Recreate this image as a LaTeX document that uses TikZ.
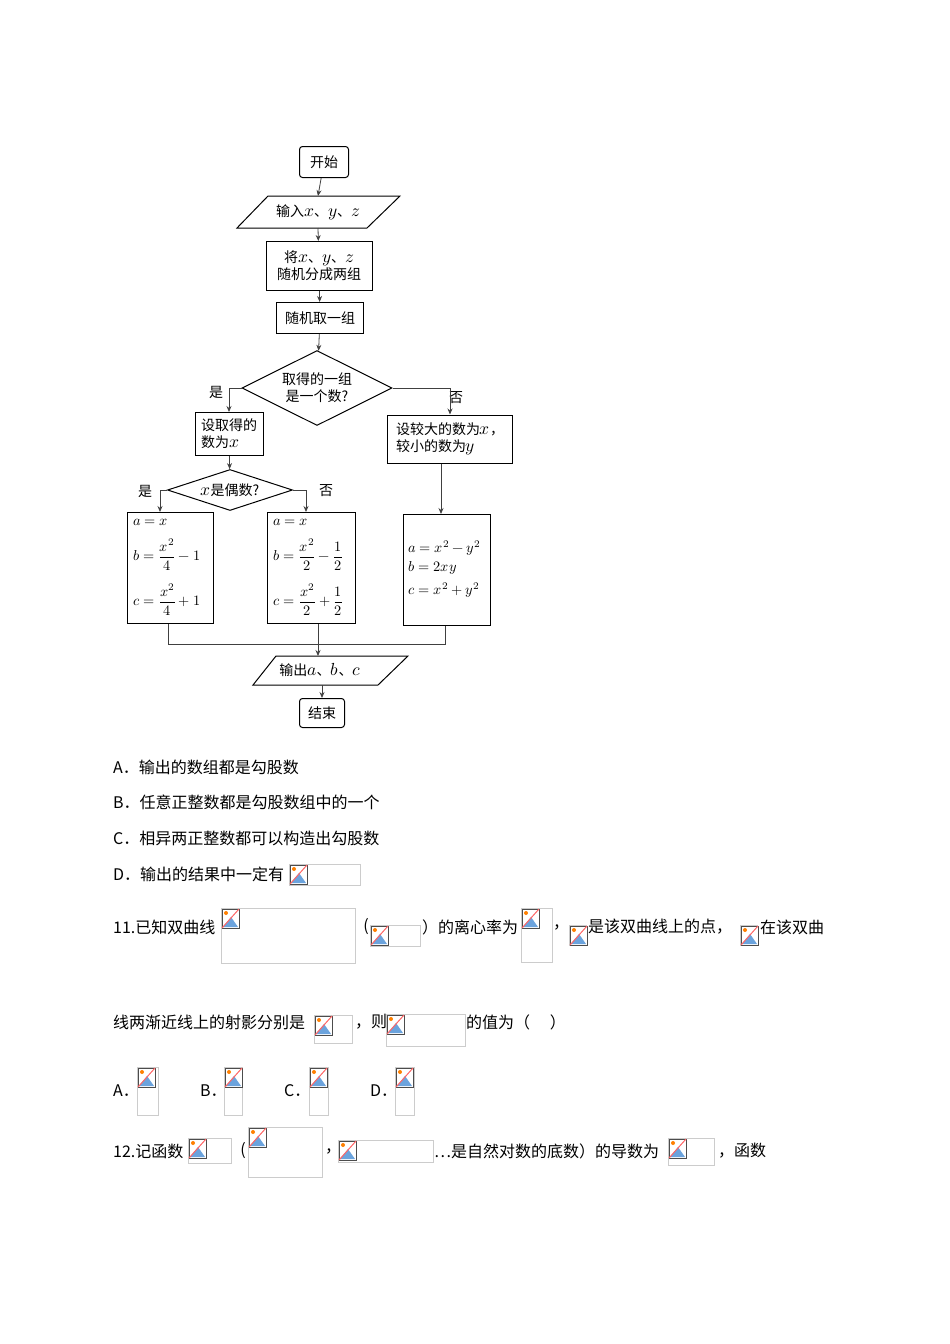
\documentclass[tikz,border=0pt]{standalone}
\usepackage{fontspec}
\setmainfont{Noto Sans CJK SC}
\usepackage{unicode-math}
\setmathfont{Latin Modern Math}[Scale=1.25]
\usetikzlibrary{shapes.geometric,arrows.meta}
\newcommand{\phbox}[5]{%
  \draw[gray!40,line width=0.8pt] (#1,#2) rectangle ++(#3,#4);
  \begin{scope}[shift={(#1,#2)}]
    \draw[black!70,fill=white,line width=0.8pt] (1,1) rectangle (18,20);
    \fill[cyan!60!blue!60] (2,19) -- (10,9) -- (17,19) -- cycle;
    \fill[orange] (5,5) circle (2);
    \draw[red!60,line width=1pt] (1,20) -- (18,1);
  \end{scope}
  \coordinate (#5) at (#1,#2);}
\begin{document}
\begin{tikzpicture}[x=1pt,y=-1pt,
  every node/.style={font=\fontsize{14}{17}\selectfont},
  fbox/.style={draw,line width=1pt,inner sep=0pt},
  txt/.style={anchor=west,inner sep=0pt,font=\fontsize{16}{18}\selectfont},
  mth/.style={anchor=west,inner sep=0pt,font=\fontsize{11.5}{14}\selectfont},
  arr/.style={-{Stealth[length=6pt,width=5pt]},line width=0.8pt,black!75},
  ln/.style={line width=0.8pt,black!75}]
\useasboundingbox (0,0) rectangle (950,1344);
% flowchart
\node[fbox,rounded corners=3pt,minimum width=49pt,minimum height=31pt] (start) at (324,162) {开始};
\draw[line width=1pt] (268,196) -- (400,196) -- (367,228) -- (237,228) -- cycle;
\node (in) at (318,212) {输入$x$、$y$、$z$};
\node[fbox,minimum width=106pt,minimum height=49pt,align=center] (split) at (319,266) {将$x$、$y$、$z$\\随机分成两组};
\node[fbox,minimum width=87pt,minimum height=31pt] (pick) at (320,318) {随机取一组};
\node[fbox,diamond,aspect=2,minimum width=150pt,minimum height=75pt,align=center] (d1) at (317,388) {取得的一组\\是一个数?};
\node[fbox,minimum width=68pt,minimum height=43pt,align=left] (one) at (229,434) {设取得的\\数为$x$};
\node[fbox,minimum width=125pt,minimum height=48pt,align=left] (two) at (450,439) {设较大的数为$x$，\\较小的数为$y$};
\node[fbox,diamond,aspect=3,minimum width=125pt,minimum height=41pt] (d2) at (230,490) {$x$是偶数?};
\node[fbox,minimum width=86pt,minimum height=111pt,anchor=north west] (b1) at (127,512) {};
\node[mth] at (133,522) {$a=x$};
\node[mth] at (133,555) {$b=\dfrac{x^2}{4}-1$};
\node[mth] at (133,600) {$c=\dfrac{x^2}{4}+1$};
\node[fbox,minimum width=88pt,minimum height=111pt,anchor=north west] (b2) at (267,512) {};
\node[mth] at (273,522) {$a=x$};
\node[mth] at (273,555) {$b=\dfrac{x^2}{2}-\dfrac12$};
\node[mth] at (273,600) {$c=\dfrac{x^2}{2}+\dfrac12$};
\node[fbox,minimum width=87pt,minimum height=111pt,anchor=north west] (b3) at (403,514) {};
\node[mth] at (408,548) {$a=x^2-y^2$};
\node[mth] at (408,568) {$b=2xy$};
\node[mth] at (408,590) {$c=x^2+y^2$};
\draw[line width=1pt] (276,656) -- (408,656) -- (378,685) -- (253,685) -- cycle;
\node (out) at (320,670) {输出$a$、$b$、$c$};
\node[fbox,rounded corners=3pt,minimum width=45pt,minimum height=29pt] (end) at (322,713) {结束};
\node (y1) at (216,392) {是};
\node (n1) at (456,398) {否};
\node (y2) at (145,491) {是};
\node (n2) at (326,491) {否};
\draw[arr] (start) -- (318,196);
\draw[arr] (318,228) -- (split);
\draw[arr] (split) -- (pick);
\draw[arr] (pick) -- (d1);
\draw[arr] (d1.west) -| (one.north);
\draw[arr] (d1.east) -| (two.north);
\draw[arr] (one) -- (d2);
\draw[arr] (two.south -| 441,0) -- (b3.north -| 441,0);
\draw[arr] (d2.west) -| (160,512);
\draw[arr] (d2.east) -| (306,512);
\coordinate (m) at (318,644);
\draw[ln] (b1.south -| 168,0) |- (m);
\draw[ln] (b3.south -| 445,0) |- (m);
\draw[arr] (b2.south -| 318,0) -- (318,656);
\draw[arr] (322,685) -- (end);
% text
\node[txt] (tA) at (113,767) {A．输出的数组都是勾股数};
\node[txt] (tB) at (113,802) {B．任意正整数都是勾股数组中的一个};
\node[txt] (tC) at (113,838) {C．相异两正整数都可以构造出勾股数};
\node[txt] (tD) at (113,874) {D．输出的结果中一定有};
\phbox{289}{864}{71}{21}{p1}
\node[txt] (q11) at (113,927) {11.已知双曲线};
\phbox{221}{908}{134}{55}{p2}
\node[txt,anchor=east] at (369,927) {(};
\phbox{370}{925}{50}{21}{p3}
\node[txt] at (422,927) {）的离心率为};
\phbox{521}{908}{31}{54}{p4}
\node[txt] at (553,927) {，};
\phbox{569}{925}{17}{20}{p5}
\node[txt] at (588,927) {是该双曲线上的点，};
\phbox{740}{925}{17}{20}{p6}
\node[txt] at (760,927) {在该双曲};
\node[txt] at (113,1022) {线两渐近线上的射影分别是};
\phbox{314}{1015}{38}{28}{p7}
\node[txt] at (355,1022) {，则};
\phbox{386}{1014}{79}{32}{p8}
\node[txt] at (466,1022) {的值为（\quad\ ）};
\node[txt] at (113,1091) {A．};
\phbox{137}{1067}{21}{48}{pa}
\node[txt] at (200,1091) {B．};
\phbox{224}{1067}{18}{48}{pb}
\node[txt] at (284,1091) {C．};
\phbox{309}{1067}{19}{48}{pc}
\node[txt] at (370,1091) {D．};
\phbox{395}{1067}{19}{48}{pd}
\node[txt] at (113,1151) {12.记函数};
\phbox{188}{1138}{43}{25}{q1}
\node[txt,anchor=east] at (246,1151) {(};
\phbox{248}{1127}{74}{50}{q2}
\node[txt] at (325,1151) {，};
\phbox{338}{1140}{95}{22}{q3}
\node[txt] at (434,1151) {…是自然对数的底数）的导数为};
\phbox{668}{1138}{46}{27}{q4}
\node[txt] at (718,1151) {，函数};
\end{tikzpicture}
\end{document}
